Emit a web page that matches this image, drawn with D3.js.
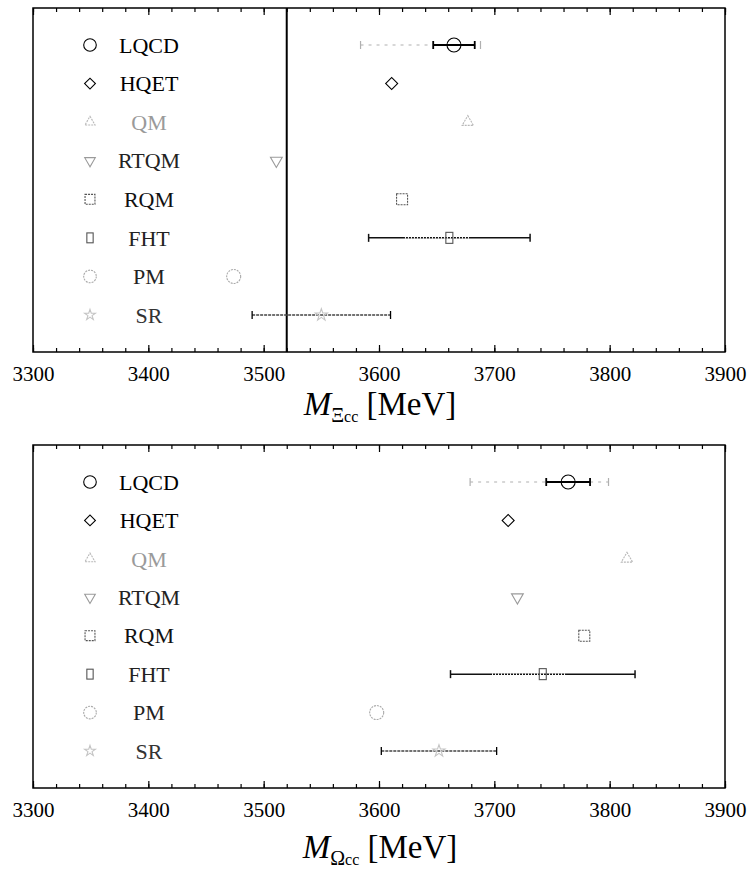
<!DOCTYPE html>
<html>
<head>
<meta charset="utf-8">
<script src="https://cdn.jsdelivr.net/npm/d3@7/dist/d3.min.js"></script>
<style>
  html, body { margin: 0; padding: 0; background: #fff; }
  svg text { font-family: "Liberation Serif", "Times New Roman", "DejaVu Serif", serif; }
</style>
</head>
<body>
<svg id="chart" width="750" height="871"></svg>
<script>
// Theoretical predictions for doubly charmed baryon masses (MeV)
const methods = ["LQCD", "HQET", "QM", "RTQM", "RQM", "FHT", "PM", "SR"];

// Xi_cc masses
const xiMass    = [3665, 3611, 3677, 3511, 3620, 3661, 3474, 3550];
const xiErrLo   = [18,   0,    0,    0,    0,    70,   0,    60];
const xiErrHi   = [18,   0,    0,    0,    0,    70,   0,    60];
// outer (systematic) range of the lattice result
const xiSysLo   = [3584, null, null, null, null, null, null, null];
const xiSysHi   = [3688, null, null, null, null, null, null, null];

// Omega_cc masses
const omMass    = [3764, 3712, 3815, 3720, 3778, 3742, 3598, 3652];
const omErrLo   = [19,   0,    0,    0,    0,    80,   0,    50];
const omErrHi   = [19,   0,    0,    0,    0,    80,   0,    50];
const omSysLo   = [3679, null, null, null, null, null, null, null];
const omSysHi   = [3799, null, null, null, null, null, null, null];

// measured Xi_cc mass shown as a vertical line
const xiMeasured = 3520;

const xTicksMajor = [3300, 3400, 3500, 3600, 3700, 3800, 3900];
const xTicksMinor = d3.range(3300, 3901, 20);

const SERIF = '"Liberation Serif", "Times New Roman", serif';

// marker appearance per method
const markerStyle = {
  LQCD: { shape: "circle",   color: "#000", dash: null,  text: "#000" },
  HQET: { shape: "diamond",  color: "#000", dash: null,  text: "#000" },
  QM:   { shape: "triUp",    color: "#b8b8b8", dash: "2,1", text: "#9a9a9a" },
  RTQM: { shape: "triDown",  color: "#9a9a9a", dash: null, text: "#222" },
  RQM:  { shape: "square",   color: "#555", dash: "2,1", text: "#111" },
  FHT:  { shape: "rect",     color: "#555", dash: null,  text: "#222" },
  PM:   { shape: "circle",   color: "#aaa", dash: "2,1", text: "#222" },
  SR:   { shape: "star",     color: "#c4c4c4", dash: null, text: "#333" }
};

const svg = d3.select("#chart");
const x = d3.scaleLinear().domain([3300, 3900]).range([33, 725]);

function drawMarker(g, name, cx, cy, scale) {
  const st = markerStyle[name];
  const s = scale || 1;
  let el;
  if (st.shape === "circle") {
    el = g.append("circle").attr("cx", cx).attr("cy", cy).attr("r", 7 * s);
  } else if (st.shape === "diamond") {
    el = g.append("path")
      .attr("d", d3.symbol(d3.symbolSquare, 72 * s * s)())
      .attr("transform", `translate(${cx},${cy}) rotate(45)`);
  } else if (st.shape === "triUp") {
    el = g.append("path")
      .attr("d", d3.symbol(d3.symbolTriangle, 55 * s * s)())
      .attr("transform", `translate(${cx},${cy})`);
  } else if (st.shape === "triDown") {
    el = g.append("path")
      .attr("d", d3.symbol(d3.symbolTriangle, 60 * s * s)())
      .attr("transform", `translate(${cx},${cy}) rotate(180)`);
  } else if (st.shape === "square") {
    const w = 11 * s;
    el = g.append("rect").attr("x", cx - w / 2).attr("y", cy - w / 2).attr("width", w).attr("height", w);
  } else if (st.shape === "rect") {
    const w = 7 * s, h = 11 * s;
    el = g.append("rect").attr("x", cx - w / 2).attr("y", cy - h / 2).attr("width", w).attr("height", h);
  } else if (st.shape === "star") {
    el = g.append("path")
      .attr("d", d3.symbol(d3.symbolStar, 45 * s * s)())
      .attr("transform", `translate(${cx},${cy})`);
  }
  el.attr("fill", "none").attr("stroke", st.color).attr("stroke-width", 1.1);
  if (st.dash) el.attr("stroke-dasharray", st.dash);
}

function errorBar(g, x0, x1, cy, opts) {
  g.append("line").attr("x1", x0).attr("x2", x1).attr("y1", cy).attr("y2", cy)
    .attr("stroke", opts.color).attr("stroke-width", opts.width)
    .attr("stroke-dasharray", opts.dash || null);
  [x0, x1].forEach(xx => {
    g.append("line").attr("x1", xx).attr("x2", xx).attr("y1", cy - 4).attr("y2", cy + 4)
      .attr("stroke", opts.capColor || opts.color).attr("stroke-width", opts.width);
  });
}

function panel(cfg) {
  const g = svg.append("g");
  const top = cfg.top, bottom = cfg.bottom;
  const y = d3.scalePoint().domain(methods).range([top + 37, bottom - 37]);

  // measured value line
  if (cfg.measured != null) {
    g.append("line")
      .attr("x1", x(cfg.measured)).attr("x2", x(cfg.measured))
      .attr("y1", top).attr("y2", bottom)
      .attr("stroke", "#000").attr("stroke-width", 2);
  }

  // legend column
  methods.forEach(m => {
    drawMarker(g, m, 90, y(m), 0.9);
    g.append("text").attr("x", 149).attr("y", y(m)).attr("dy", "0.35em")
      .attr("text-anchor", "middle").attr("font-size", 22)
      .style("font-family", SERIF)
      .attr("fill", markerStyle[m].text).text(m);
  });

  // predictions with error bars
  methods.forEach((m, i) => {
    const cy = y(m);
    if (cfg.sysLo[i] != null) {
      errorBar(g, x(cfg.sysLo[i]), x(cfg.sysHi[i]), cy, { color: "#b0b0b0", width: 1.2, dash: "3,5" });
    }
    if (cfg.errLo[i] > 0) {
      const lo = x(cfg.mass[i] - cfg.errLo[i]), hi = x(cfg.mass[i] + cfg.errHi[i]), c = x(cfg.mass[i]);
      if (m === "LQCD") {
        errorBar(g, lo, hi, cy, { color: "#000", width: 1.8 });
      } else if (m === "FHT") {
        errorBar(g, lo, hi, cy, { color: "#111", width: 1.5 });
        g.append("line").attr("x1", lo + (c - lo) * 0.45).attr("x2", c + (hi - c) * 0.25)
          .attr("y1", cy).attr("y2", cy).attr("stroke", "#fff").attr("stroke-width", 1.6)
          .attr("stroke-dasharray", "1,2");
      } else {
        errorBar(g, lo, hi, cy, { color: "#444", width: 1.3, dash: "3,1", capColor: "#000" });
      }
    }
    drawMarker(g, m, x(cfg.mass[i]), cy, 1);
  });

  // frame
  g.append("rect").attr("x", x(3300)).attr("y", top)
    .attr("width", x(3900) - x(3300)).attr("height", bottom - top)
    .attr("fill", "none").attr("stroke", "#000").attr("stroke-width", 1.5);

  // inward ticks on bottom and top edges
  const axB = g.append("g").attr("transform", `translate(0,${bottom})`)
    .call(d3.axisBottom(x).tickValues(xTicksMajor).tickSizeInner(-7).tickSizeOuter(0)
      .tickPadding(14).tickFormat(d3.format("d")));
  g.append("g").attr("transform", `translate(0,${bottom})`)
    .call(d3.axisBottom(x).tickValues(xTicksMinor).tickSizeInner(-4).tickSizeOuter(0).tickFormat(""));
  g.append("g").attr("transform", `translate(0,${top})`)
    .call(d3.axisTop(x).tickValues(xTicksMajor).tickSizeInner(-7).tickSizeOuter(0).tickFormat(""));
  g.append("g").attr("transform", `translate(0,${top})`)
    .call(d3.axisTop(x).tickValues(xTicksMinor).tickSizeInner(-4).tickSizeOuter(0).tickFormat(""));
  g.selectAll(".domain").remove();
  g.selectAll(".tick line").attr("stroke", "#000").attr("stroke-width", 1.2);
  axB.attr("font-family", null);
  axB.selectAll(".tick text")
    .style("font-family", SERIF).attr("font-size", 21).attr("fill", "#000");

  // axis title
  const t = g.append("text").attr("x", 380).attr("y", cfg.titleY)
    .attr("text-anchor", "middle").attr("fill", "#000").style("font-family", SERIF);
  t.append("tspan").attr("font-style", "italic").attr("font-size", 33).text("M");
  t.append("tspan").attr("font-size", 20).attr("dy", 7).text(cfg.sub);
  t.append("tspan").attr("font-size", 16).text("cc");
  t.append("tspan").attr("font-size", 33).attr("dy", -7).text(" [MeV]");
}

panel({ top: 8, bottom: 352, mass: xiMass, errLo: xiErrLo, errHi: xiErrHi,
        sysLo: xiSysLo, sysHi: xiSysHi, measured: xiMeasured, sub: "Ξ", titleY: 415 });
panel({ top: 445, bottom: 788, mass: omMass, errLo: omErrLo, errHi: omErrHi,
        sysLo: omSysLo, sysHi: omSysHi, measured: null, sub: "Ω", titleY: 858 });
</script>
</body>
</html>
